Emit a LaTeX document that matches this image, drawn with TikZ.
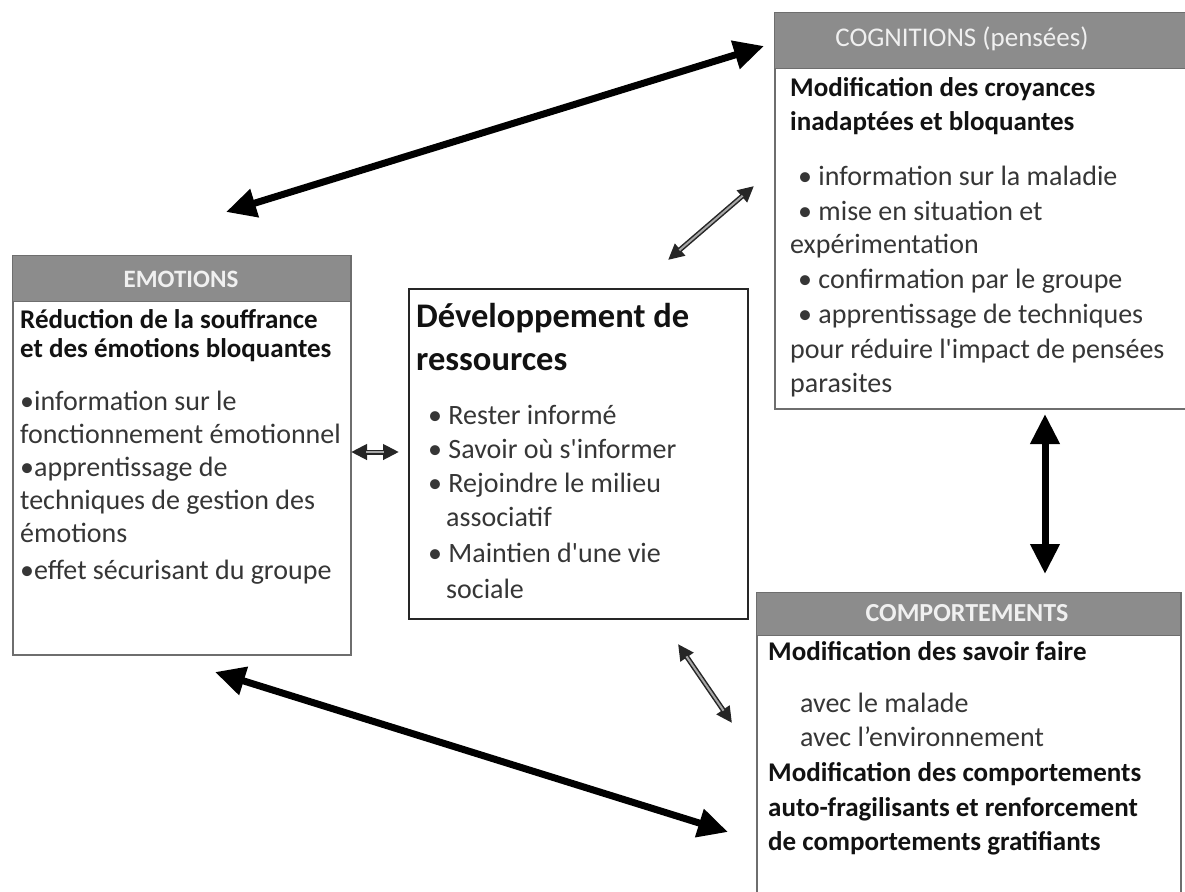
\documentclass[tikz,border=0pt]{standalone}
\usepackage{fontspec}
\setmainfont{Carlito}
\usetikzlibrary{arrows.meta}
\definecolor{hdrgray}{HTML}{8C8C8C}
\definecolor{bordgray}{HTML}{6E6E6E}
\definecolor{regcol}{HTML}{363636}
\definecolor{boldcol}{HTML}{121212}
\definecolor{shaftgray}{HTML}{A8A8A8}
\newcommand{\apos}{\textquotesingle}
\begin{document}
\begin{tikzpicture}[x=1pt,y=-1pt,
  boxframe/.style={draw=bordgray, line width=1.5pt, fill=white, anchor=north west, inner sep=0},
  hdrbox/.style={draw=bordgray, line width=1.2pt, fill=hdrgray, anchor=north west, inner sep=0},
  devbox/.style={draw=black!85, line width=2pt, fill=white, anchor=north west, inner sep=0},
  ht/.style={font=\fontsize{27}{30}\selectfont, text=white!94!black, inner sep=0},
  bt/.style={anchor=base west, font=\fontsize{27}{30}\selectfont\bfseries, text=boldcol, inner sep=0},
  rt/.style={anchor=base west, font=\fontsize{28}{30}\selectfont, text=regcol, inner sep=0},
  tt/.style={anchor=base west, font=\fontsize{34.5}{40}\selectfont\bfseries, text=boldcol, inner sep=0},
  bigarr/.style={line width=7pt, draw=black, {Triangle[length=30pt,width=28pt]}-{Triangle[length=30pt,width=28pt]}},
  thinhead/.style={line width=5pt, draw=black!85, {Triangle[length=16pt,width=15pt]}-{Triangle[length=16pt,width=15pt]}},
  thinshaft/.style={line width=2pt, draw=shaftgray, shorten <=15pt, shorten >=15pt}
]
\useasboundingbox (0,0) rectangle (1185,891);

% ---------- COGNITIONS ----------
\node[boxframe, minimum width=420, minimum height=396] (cogbox) at (774,12) {};
\node[hdrbox, minimum width=420, minimum height=56] (coghdr) at (774,12) {};
\node[ht] (cogt) at (962,39) {COGNITIONS (pensées)};
\node[bt] (c1) at (790,96) {Modification des croyances};
\node[bt] (c2) at (790,130) {inadaptées et bloquantes};
\node[rt] (c3) at (798,185) {• information sur la maladie};
\node[rt] (c4) at (798,220) {• mise en situation et};
\node[rt] (c5) at (790,253) {expérimentation};
\node[rt] (c6) at (798,288) {• confirmation par le groupe};
\node[rt] (c7) at (798,323) {• apprentissage de techniques};
\node[rt] (c8) at (790,358) {pour réduire l\apos impact de pensées};
\node[rt] (c9) at (790,392) {parasites};

% ---------- EMOTIONS ----------
\node[boxframe, minimum width=338, minimum height=399] (emobox) at (12,255) {};
\node[hdrbox, minimum width=338, minimum height=46] (emohdr) at (12,255) {};
\node[ht, font=\fontsize{25}{30}\selectfont\bfseries] (emot) at (181,279) {EMOTIONS};
\node[bt] (e1) at (20,328) {Réduction de la souffrance};
\node[bt] (e2) at (20,357) {et des émotions bloquantes};
\node[rt] (e3) at (20,410) {•information sur le};
\node[rt] (e4) at (20,443) {fonctionnement émotionnel};
\node[rt] (e5) at (20,476) {•apprentissage de};
\node[rt] (e6) at (20,509) {techniques de gestion des};
\node[rt] (e7) at (20,542) {émotions};
\node[rt] (e8) at (20,579) {•effet sécurisant du groupe};

% ---------- DEVELOPPEMENT ----------
\node[devbox, minimum width=339, minimum height=330] (devbox) at (408,288) {};
\node[tt] (d1) at (416,327) {Développement de};
\node[tt] (d2) at (416,370) {ressources};
\node[rt] (d3) at (428,424) {• Rester informé};
\node[rt] (d4) at (428,458) {• Savoir où s\apos informer};
\node[rt] (d5) at (428,492) {• Rejoindre le milieu};
\node[rt] (d6) at (446,526) {associatif};
\node[rt] (d7) at (428,562) {• Maintien d\apos une vie};
\node[rt] (d8) at (446,598) {sociale};

% ---------- COMPORTEMENTS ----------
\node[boxframe, minimum width=424, minimum height=320] (compbox) at (756,592) {};
\node[hdrbox, minimum width=424, minimum height=43] (comphdr) at (756,592) {};
\node[ht, font=\fontsize{26}{30}\selectfont\bfseries] (compt) at (967,613) {COMPORTEMENTS};
\node[bt] (p1) at (768,660) {Modification des savoir faire};
\node[rt] (p2) at (800,712) {avec le malade};
\node[rt] (p3) at (800,746) {avec l’environnement};
\node[bt] (p4) at (768,781) {Modification des comportements};
\node[bt] (p5) at (768,816) {auto-fragilisants et renforcement};
\node[bt] (p6) at (768,850) {de comportements gratifiants};

% ---------- arrow end points ----------
\coordinate (a1s) at (226,212);
\coordinate (a1e) at (764,46);
\coordinate (a2s) at (668,260);
\coordinate (a2e) at (754,186);
\coordinate (a3s) at (351,452);
\coordinate (a3e) at (399,452);
\coordinate (a4s) at (1045,414);
\coordinate (a4e) at (1045,574);
\coordinate (a5s) at (215,672);
\coordinate (a5e) at (728,832);
\coordinate (a6s) at (678,644);
\coordinate (a6e) at (732,723);

\draw[bigarr] (a1s) -- (a1e);
\draw[bigarr] (a4s) -- (a4e);
\draw[bigarr] (a5s) -- (a5e);

\draw[thinhead] (a2s) -- (a2e);
\draw[thinshaft] (a2s) -- (a2e);
\draw[thinhead] (a3s) -- (a3e);
\draw[thinshaft] (a3s) -- (a3e);
\draw[thinhead] (a6s) -- (a6e);
\draw[thinshaft] (a6s) -- (a6e);
\end{tikzpicture}
\end{document}
